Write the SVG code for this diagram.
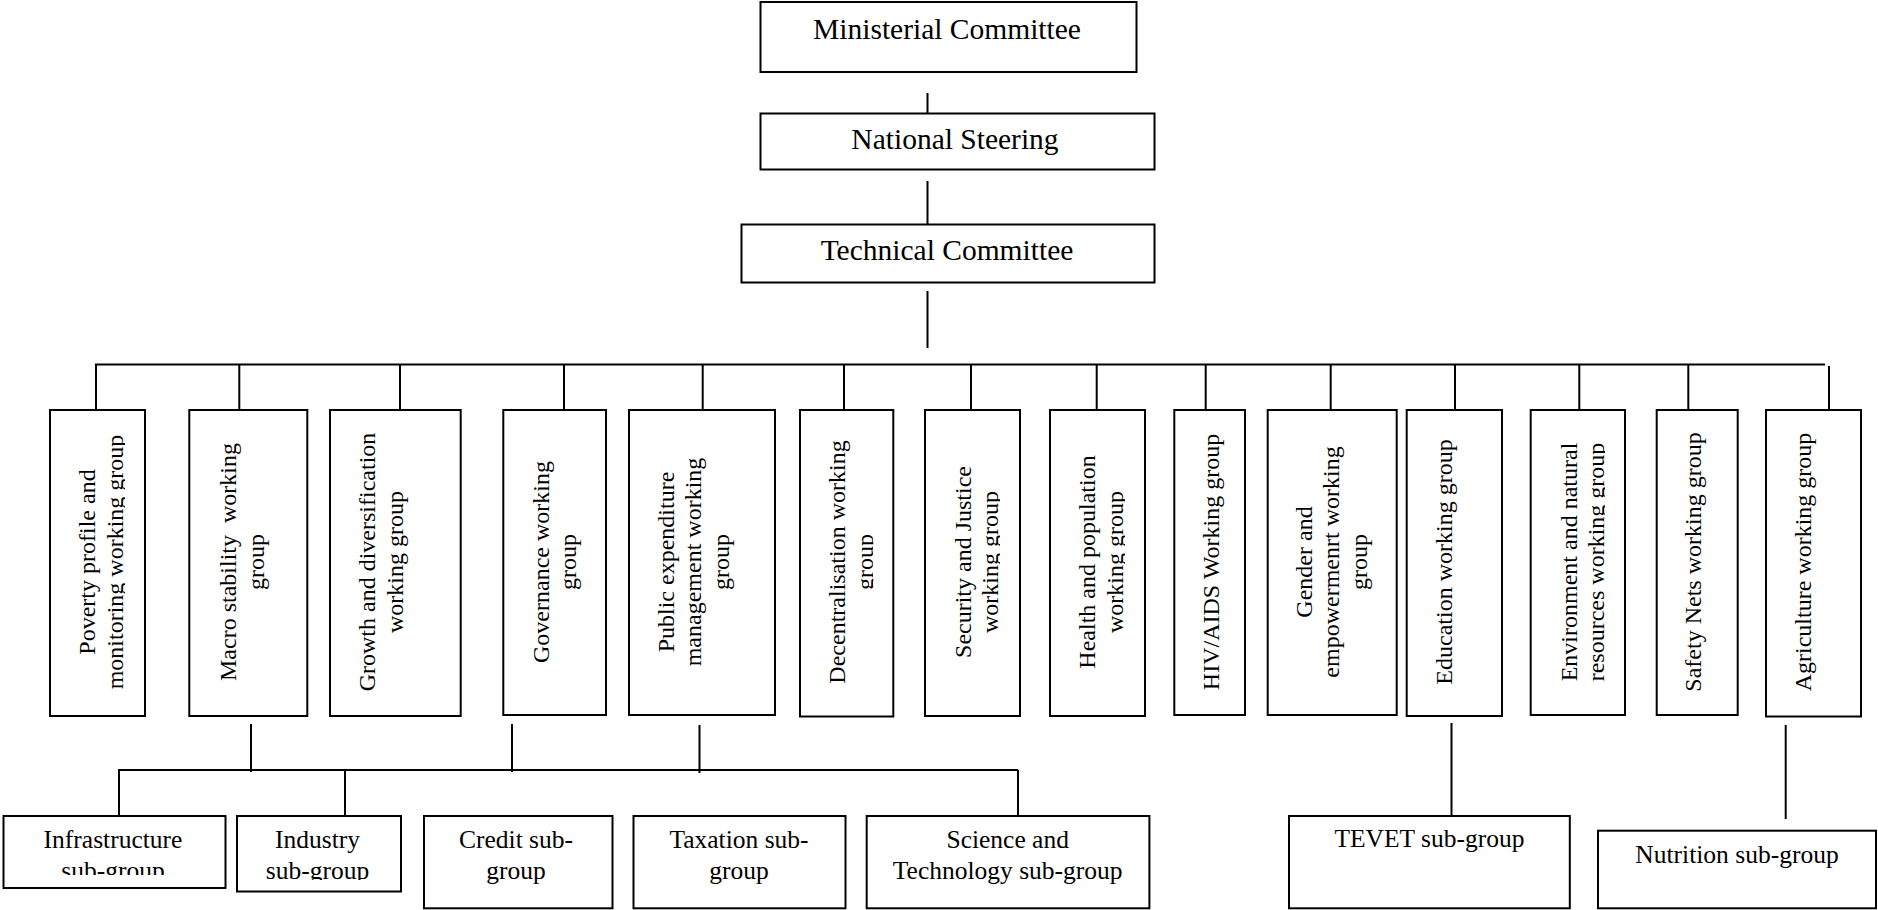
<svg xmlns="http://www.w3.org/2000/svg" width="1878" height="910" viewBox="0 0 1878 910">
<style>
.box{fill:#fff;stroke:#000;stroke-width:2}
.ln{stroke:#000;stroke-width:2;fill:none}
.t{font-family:"Liberation Serif","Times New Roman",serif;fill:#000;text-anchor:middle}
.top{font-size:29.5px}
.wg{font-size:24px}
.sg{font-size:25.5px}
</style>
<defs>
<clipPath id="c1"><rect x="50" y="410" width="75" height="306"/></clipPath>
<clipPath id="c2"><rect x="189" y="410" width="98" height="306"/></clipPath>
<clipPath id="c3"><rect x="330" y="410" width="111" height="306"/></clipPath>
<clipPath id="c4"><rect x="503" y="410" width="83" height="306"/></clipPath>
<clipPath id="c5"><rect x="629" y="410" width="126" height="306"/></clipPath>
<clipPath id="c6"><rect x="800" y="410" width="73.3" height="306"/></clipPath>
<clipPath id="c7"><rect x="925" y="410" width="75" height="306"/></clipPath>
<clipPath id="c8"><rect x="1050" y="410" width="75" height="306"/></clipPath>
<clipPath id="c9"><rect x="1174" y="410" width="51" height="306"/></clipPath>
<clipPath id="c10"><rect x="1267" y="410" width="110" height="306"/></clipPath>
<clipPath id="c11"><rect x="1406" y="410" width="76" height="306"/></clipPath>
<clipPath id="c12"><rect x="1530" y="410" width="75" height="306"/></clipPath>
<clipPath id="c13"><rect x="1656" y="410" width="62" height="306"/></clipPath>
<clipPath id="c14"><rect x="1766" y="410" width="75" height="306"/></clipPath>
<clipPath id="cInf"><rect x="3" y="816" width="223" height="59"/></clipPath>
<clipPath id="cInd"><rect x="237" y="816" width="164" height="64"/></clipPath>
</defs>

<g id="connectors">
<line class="ln" x1="927.5" y1="93" x2="927.5" y2="113.5"/>
<line class="ln" x1="927.5" y1="181" x2="927.5" y2="224.5"/>
<line class="ln" x1="927.5" y1="291" x2="927.5" y2="348"/>
<line class="ln" x1="95" y1="364.5" x2="1825" y2="364.5"/>
<line class="ln" x1="96" y1="364.5" x2="96" y2="410"/>
<line class="ln" x1="239.3" y1="364.5" x2="239.3" y2="410"/>
<line class="ln" x1="400" y1="364.5" x2="400" y2="410"/>
<line class="ln" x1="564" y1="364.5" x2="564" y2="410"/>
<line class="ln" x1="702.7" y1="364.5" x2="702.7" y2="410"/>
<line class="ln" x1="844" y1="364.5" x2="844" y2="410"/>
<line class="ln" x1="971" y1="364.5" x2="971" y2="410"/>
<line class="ln" x1="1096.7" y1="364.5" x2="1096.7" y2="410"/>
<line class="ln" x1="1205.7" y1="364.5" x2="1205.7" y2="410"/>
<line class="ln" x1="1330.7" y1="364.5" x2="1330.7" y2="410"/>
<line class="ln" x1="1455" y1="364.5" x2="1455" y2="410"/>
<line class="ln" x1="1579.3" y1="364.5" x2="1579.3" y2="410"/>
<line class="ln" x1="1688.3" y1="364.5" x2="1688.3" y2="410"/>
<line class="ln" x1="1829" y1="366" x2="1829" y2="410"/>
<line class="ln" x1="251" y1="724" x2="251" y2="772"/>
<line class="ln" x1="512" y1="724" x2="512" y2="772"/>
<line class="ln" x1="699.5" y1="725" x2="699.5" y2="773"/>
<line class="ln" x1="118" y1="770" x2="1018" y2="770"/>
<line class="ln" x1="119" y1="770" x2="119" y2="816"/>
<line class="ln" x1="345" y1="770" x2="345" y2="816"/>
<line class="ln" x1="1018" y1="770" x2="1018" y2="816"/>
<line class="ln" x1="1451.5" y1="723" x2="1451.5" y2="816"/>
<line class="ln" x1="1785.7" y1="725" x2="1785.7" y2="819"/>
</g>

<g id="n-ministerial">
<rect class="box" x="760.5" y="2" width="376" height="70"/>
<text class="t top" x="947" y="39">Ministerial Committee</text>
</g>
<g id="n-national">
<rect class="box" x="760.5" y="113.5" width="394" height="56"/>
<text class="t top" x="955" y="149">National Steering</text>
</g>
<g id="n-technical">
<rect class="box" x="741.5" y="224.5" width="413" height="58"/>
<text class="t top" x="947" y="260">Technical Committee</text>
</g>

<g id="wg-poverty">
<rect class="box" x="50" y="410" width="95" height="306"/>
<g clip-path="url(#c1)"><text class="t wg" transform="translate(95,562) rotate(-90)"><tspan x="0" y="0">Poverty profile and</tspan><tspan x="0" dy="27.6">monitoring working group</tspan></text></g>
</g>
<g id="wg-macro">
<rect class="box" x="189.3" y="410" width="118" height="306"/>
<g clip-path="url(#c2)"><text class="t wg" xml:space="preserve" transform="translate(236,562) rotate(-90)"><tspan x="0" y="0">Macro stability  working</tspan><tspan x="0" dy="27.6">group</tspan></text></g>
</g>
<g id="wg-growth">
<rect class="box" x="330" y="410" width="130.7" height="306"/>
<g clip-path="url(#c3)"><text class="t wg" transform="translate(375,562) rotate(-90)"><tspan x="0" y="0">Growth and diversification</tspan><tspan x="0" dy="27.6">working group</tspan></text></g>
</g>
<g id="wg-governance">
<rect class="box" x="503.3" y="410" width="102.7" height="305"/>
<g clip-path="url(#c4)"><text class="t wg" transform="translate(548.5,562) rotate(-90)"><tspan x="0" y="0">Governance working</tspan><tspan x="0" dy="27.6">group</tspan></text></g>
</g>
<g id="wg-public">
<rect class="box" x="629" y="410" width="146" height="305"/>
<g clip-path="url(#c5)"><text class="t wg" transform="translate(673.5,562) rotate(-90)"><tspan x="0" y="0">Public expenditure</tspan><tspan x="0" dy="27.6">management working</tspan><tspan x="0" dy="27.6">group</tspan></text></g>
</g>
<g id="wg-decentralisation">
<rect class="box" x="800" y="410" width="93.3" height="306.5"/>
<g clip-path="url(#c6)"><text class="t wg" transform="translate(845,562) rotate(-90)"><tspan x="0" y="0">Decentralisation working</tspan><tspan x="0" dy="27.6">group</tspan></text></g>
</g>
<g id="wg-security">
<rect class="box" x="925" y="410" width="95" height="306"/>
<g clip-path="url(#c7)"><text class="t wg" transform="translate(970.5,562) rotate(-90)"><tspan x="0" y="0">Security and Justice</tspan><tspan x="0" dy="27.6">working group</tspan></text></g>
</g>
<g id="wg-health">
<rect class="box" x="1050" y="410" width="95" height="306"/>
<g clip-path="url(#c8)"><text class="t wg" transform="translate(1095,562) rotate(-90)"><tspan x="0" y="0">Health and population</tspan><tspan x="0" dy="27.6">working group</tspan></text></g>
</g>
<g id="wg-hiv">
<rect class="box" x="1174.3" y="410" width="70.7" height="305"/>
<g clip-path="url(#c9)"><text class="t wg" transform="translate(1219.3,562) rotate(-90)"><tspan x="0" y="0">HIV/AIDS Working group</tspan></text></g>
</g>
<g id="wg-gender">
<rect class="box" x="1267.7" y="410" width="129" height="305"/>
<g clip-path="url(#c10)"><text class="t wg" transform="translate(1311.5,562) rotate(-90)"><tspan x="0" y="0">Gender and</tspan><tspan x="0" dy="27.6">empowermenrt working</tspan><tspan x="0" dy="27.6">group</tspan></text></g>
</g>
<g id="wg-education">
<rect class="box" x="1406.7" y="410" width="95.3" height="306"/>
<g clip-path="url(#c11)"><text class="t wg" transform="translate(1452,562) rotate(-90)"><tspan x="0" y="0">Education working group</tspan></text></g>
</g>
<g id="wg-environment">
<rect class="box" x="1530.7" y="410" width="94.3" height="305"/>
<g clip-path="url(#c12)"><text class="t wg" transform="translate(1576.5,562) rotate(-90)"><tspan x="0" y="0">Environment and natural</tspan><tspan x="0" dy="27.6">resources working group</tspan></text></g>
</g>
<g id="wg-safety">
<rect class="box" x="1656.7" y="410" width="81" height="305"/>
<g clip-path="url(#c13)"><text class="t wg" transform="translate(1700.5,562) rotate(-90)"><tspan x="0" y="0">Safety Nets working group</tspan></text></g>
</g>
<g id="wg-agriculture">
<rect class="box" x="1766" y="410" width="95" height="306.5"/>
<g clip-path="url(#c14)"><text class="t wg" transform="translate(1810.5,562) rotate(-90)"><tspan x="0" y="0">Agriculture working group</tspan></text></g>
</g>

<g id="sg-infrastructure">
<rect class="box" x="3.5" y="816" width="222" height="72"/>
<g clip-path="url(#cInf)"><text class="t sg"><tspan x="113" y="847.7">Infrastructure</tspan><tspan x="113" y="878.7">sub-group</tspan></text></g>
</g>
<g id="sg-industry">
<rect class="box" x="237" y="816" width="164" height="75.5"/>
<g clip-path="url(#cInd)"><text class="t sg"><tspan x="317.5" y="847.7">Industry</tspan><tspan x="317.5" y="878.7">sub-group</tspan></text></g>
</g>
<g id="sg-credit">
<rect class="box" x="424" y="816" width="188.5" height="92.3"/>
<text class="t sg"><tspan x="516" y="847.7">Credit sub-</tspan><tspan x="516" y="879">group</tspan></text>
</g>
<g id="sg-taxation">
<rect class="box" x="633.5" y="816" width="212" height="92.3"/>
<text class="t sg"><tspan x="739" y="847.7">Taxation sub-</tspan><tspan x="739" y="879">group</tspan></text>
</g>
<g id="sg-science">
<rect class="box" x="866.7" y="816" width="282.7" height="92.3"/>
<text class="t sg"><tspan x="1007.7" y="847.7">Science and</tspan><tspan x="1007.7" y="878.5">Technology sub-group</tspan></text>
</g>
<g id="sg-tevet">
<rect class="box" x="1289" y="816" width="280.8" height="92.3"/>
<text class="t sg" x="1429.4" y="846.7">TEVET sub-group</text>
</g>
<g id="sg-nutrition">
<rect class="box" x="1598" y="830.7" width="278" height="77.6"/>
<text class="t sg" x="1737" y="863.3">Nutrition sub-group</text>
</g>
</svg>
